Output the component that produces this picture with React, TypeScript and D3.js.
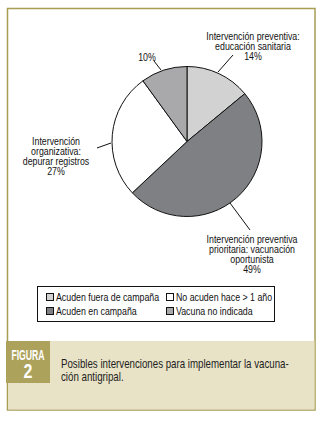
import React from "react";
import * as d3 from "d3";

const sliceNames = ["Acuden fuera de campaña", "Acuden en campaña", "No acuden hace > 1 año", "Vacuna no indicada"];
const sliceValues = [14, 49, 27, 10];
const sliceColors = ["#d2d2d2", "#7f8083", "#ffffff", "#a9a9ab"];
const legendOrder = [0, 2, 1, 3];
const labelLines = [
  ["Intervención preventiva:", "educación sanitaria", "14%"],
  ["Intervención preventiva", "prioritaria: vacunación", "oportunista", "49%"],
  ["Intervención", "organizativa:", "depurar registros", "27%"],
  ["10%"],
];
const captionLines = ["Posibles intervenciones para implementar la vacuna-", "ción antigripal."];

const FONT = "'Liberation Sans', Arial, sans-serif";
const SX = 0.8;

function CText(props: {
  x: number; y: number; lines: string[]; lh: number; size: number; anchor?: string;
  sx?: number; weight?: string; fill?: string;
}) {
  const { x, y, lines, lh, size, anchor = "start", sx = SX, weight = "normal", fill = "#111" } = props;
  return (
    <g transform={`translate(${x},${y}) scale(${sx},1)`}>
      <text textAnchor={anchor} fontSize={size} fontWeight={weight} fill={fill}>
        {lines.map((t, j) => (
          <tspan key={j} x={0} dy={j === 0 ? 0 : lh}>{t}</tspan>
        ))}
      </text>
    </g>
  );
}

export default function App() {
  const W = 324, H = 421;
  const cx = 187, cy = 141.5, r = 75;
  const pie = d3.pie<number>().sort(null).value((d) => d)(sliceValues);
  const arc = d3.arc<d3.PieArcDatum<number>>().innerRadius(0).outerRadius(r);
  const labelPos = [
    { x: 253, y: 39.5, lh: 10.5, line: [[218, 72], [233, 55]] },
    { x: 252, y: 243, lh: 10, line: [[230, 203], [250, 230]] },
    { x: 56, y: 145, lh: 10, line: [[97, 148], [111, 143]] },
    { x: 147, y: 61, lh: 10, line: [[154, 61], [161, 70]] },
  ];
  return (
    <svg width={W} height={H} style={{ position: "absolute", left: 0, top: 0 }} fontFamily={FONT}>
      <rect x={0} y={0} width={W} height={H} fill="#fff" />
      <rect x={7.5} y={8.5} width={307.5} height={401.5} fill="#fff" stroke="#a89d55" strokeWidth={1.5} />
      <g transform={`translate(${cx},${cy})`}>
        {pie.map((p, i) => (
          <path key={i} d={arc(p) || ""} fill={sliceColors[i]} stroke="#111" strokeWidth={1} />
        ))}
      </g>
      {labelPos.map((lp, i) => (
        <g key={i}>
          <line x1={lp.line[0][0]} y1={lp.line[0][1]} x2={lp.line[1][0]} y2={lp.line[1][1]} stroke="#111" strokeWidth={1} />
          <CText x={lp.x} y={lp.y} lines={labelLines[i]} lh={lp.lh} size={11} anchor="middle" />
        </g>
      ))}
      <rect x={37.5} y={286.5} width={237} height={35} fill="#fff" stroke="#111" strokeWidth={1} />
      {legendOrder.map((si, k) => {
        const col = k % 2, row = Math.floor(k / 2);
        const x = col === 0 ? 46 : 166;
        const y = row === 0 ? 297 : 311;
        return (
          <g key={k}>
            <rect x={x + 0.5} y={y - 3.5} width={7} height={7} fill={sliceColors[si]} stroke="#111" strokeWidth={1} />
            <CText x={x + 10} y={y + 3.5} lines={[sliceNames[si]]} lh={0} size={11} />
          </g>
        );
      })}
      <rect x={8} y={341} width={306.5} height={68.5} fill="#e8e3c6" />
      <rect x={6} y={341} width={44} height={42} fill="#ada25c" />
      <CText x={28} y={360} lines={["FIGURA"]} lh={0} size={14} anchor="middle" weight="bold" fill="#fff" sx={0.62} />
      <CText x={28} y={377.5} lines={["2"]} lh={0} size={20} anchor="middle" weight="bold" fill="#fff" sx={0.8} />
      <CText x={61} y={368} lines={captionLines} lh={13.5} size={12} fill="#222" sx={0.81} />
    </svg>
  );
}
